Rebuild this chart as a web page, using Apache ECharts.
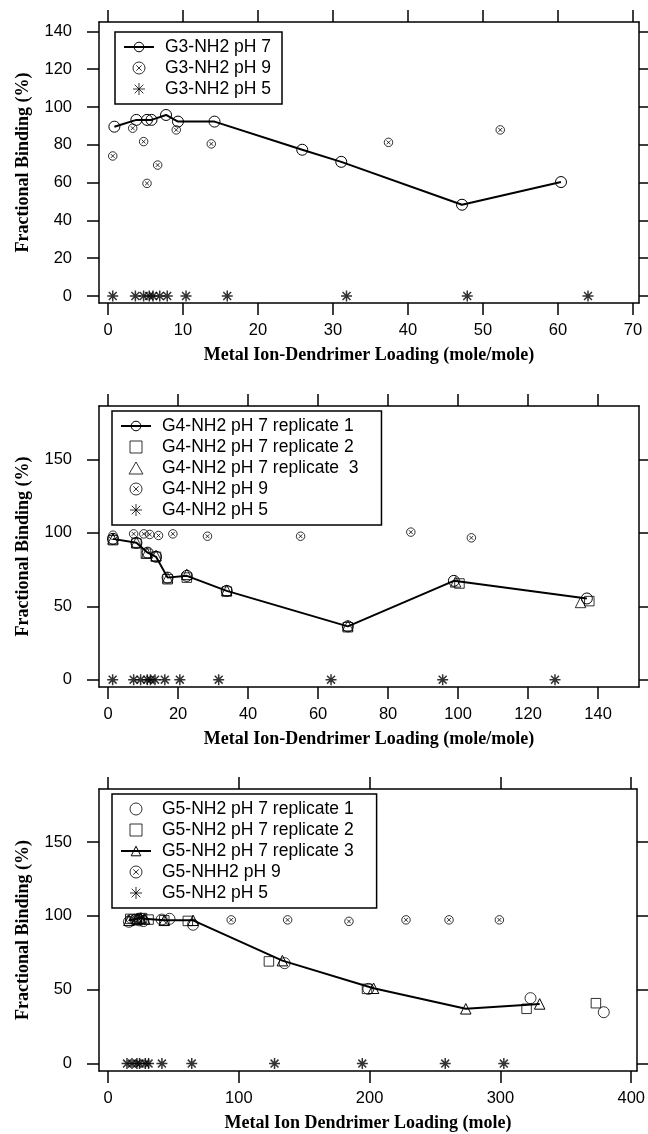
<!DOCTYPE html>
<html><head><meta charset="utf-8">
<script src="https://cdn.jsdelivr.net/npm/echarts@6/dist/echarts.min.js"></script>
<style>html,body{margin:0;padding:0;background:#fff}#c{width:648px;height:1134px}</style>
</head><body><div id="c"></div>
<script>
// ---------- DATA ----------
// Panel 1 (G3)
const g3_ph7_x = [0.85, 3.78, 5.2, 5.8, 7.74, 9.33, 14.2, 25.9, 31.1, 47.2, 60.4];
const g3_ph7_y = [89.6, 93.2, 93.2, 93.2, 95.8, 92.3, 92.3, 77.4, 71.0, 48.3, 60.3];
const g3_ph9_x = [0.63, 3.29, 4.75, 5.2, 6.62, 9.1, 13.77, 37.4, 52.3];
const g3_ph9_y = [74.1, 88.8, 81.7, 59.6, 69.3, 87.9, 80.5, 81.3, 87.9];
const g3_ph5_x = [0.63, 3.65, 4.75, 5.5, 6.0, 6.9, 7.9, 10.4, 15.9, 31.8, 47.9, 64.0];
const g3_ph5_y = [0, 0, 0, 0, 0, 0, 0, 0, 0, 0, 0, 0];
// Panel 2 (G4)
const g4_r1_x = [1.4, 8.1, 11.3, 13.7, 17.0, 22.5, 33.9, 68.5, 98.8, 136.8];
const g4_r1_y = [95.9, 93.2, 86.5, 83.7, 69.5, 70.7, 60.5, 36.3, 67.3, 55.3];
const g4_r2_x = [1.4, 8.1, 10.8, 13.7, 17.0, 22.5, 33.9, 68.5, 100.4, 137.5];
const g4_r2_y = [95.0, 92.8, 85.8, 83.7, 68.4, 69.5, 60.0, 35.7, 65.5, 53.5];
const g4_r3_x = [1.4, 8.1, 11.1, 13.7, 17.0, 22.5, 33.9, 68.5, 99.3, 135.0];
const g4_r3_y = [95.9, 93.7, 86.5, 84.6, 69.5, 71.8, 60.9, 36.8, 66.6, 52.6];
const g4_ph9_x = [1.4, 7.3, 10.2, 11.9, 14.4, 18.5, 28.4, 55.0, 86.5, 103.8];
const g4_ph9_y = [98.4, 99.3, 99.3, 98.9, 98.2, 99.3, 97.7, 97.7, 100.5, 96.6];
const g4_ph5_x = [1.3, 7.3, 9.3, 11.2, 12.1, 13.4, 16.2, 20.5, 31.6, 63.7, 95.6, 127.7];
const g4_ph5_y = [0, 0, 0, 0, 0, 0, 0, 0, 0, 0, 0, 0];
// Panel 3 (G5)
const g5_r1_x = [16, 21, 24, 27, 41, 47, 65, 135, 199, 323, 379];
const g5_r1_y = [96, 97.5, 97, 96.5, 97.5, 98, 94, 68, 50.6, 44.3, 34.8];
const g5_r2_x = [17, 22, 26, 31, 43, 61, 123, 198, 320, 373];
const g5_r2_y = [98, 97.5, 98.5, 97.5, 97, 96.6, 69.2, 50.6, 37.1, 40.9];
const g5_r3_x = [16, 22, 25, 28, 43, 65, 133.3, 203, 273.5, 330];
const g5_r3_y = [97, 98, 98.5, 98, 97, 97, 69.7, 51.0, 37.1, 40.4];
const g5_ph9_x = [17, 23, 25, 94.2, 137.3, 184.2, 227.8, 260.7, 299.2];
const g5_ph9_y = [98, 98.5, 99, 97.3, 97.3, 96.3, 97.3, 97.3, 97.3];
const g5_ph5_x = [14.5, 18.3, 22.1, 24.1, 28.5, 31.0, 41.2, 64.0, 127.3, 194.4, 257.8, 302.6];
const g5_ph5_y = [0, 0, 0, 0, 0, 0, 0, 0, 0, 0, 0, 0];
// Tick labels
const xticks1 = [0, 10, 20, 30, 40, 50, 60, 70];
const yticks1 = [0, 20, 40, 60, 80, 100, 120, 140];
const xticks2 = [0, 20, 40, 60, 80, 100, 120, 140];
const yticks2 = [0, 50, 100, 150];
const xticks3 = [0, 100, 200, 300, 400];
const yticks3 = [0, 50, 100, 150];
const xTitle12 = 'Metal Ion-Dendrimer Loading (mole/mole)';
const xTitle3 = 'Metal Ion Dendrimer Loading (mole)';
const yTitle = 'Fractional Binding (%)';

// ---------- CHART ----------
const zip = (xs, ys) => xs.map((x, i) => [x, ys[i]]);
const SYM_CIR = 'path://M10,0 A10,10 0 1,1 -10,0 A10,10 0 1,1 10,0 Z';
const SYM_CX = 'path://M10,0 A10,10 0 1,1 -10,0 A10,10 0 1,1 10,0 Z M-4.5,-4.5 L4.5,4.5 M4.5,-4.5 L-4.5,4.5';
const SYM_AST = 'path://M0,-10 L0,10 M-10,0 L10,0 M-7.2,-7.2 L7.2,7.2 M7.2,-7.2 L-7.2,7.2';
const SYM_SQ = 'path://M0,0 L10,0 L10,10 L0,10 Z';
const SYM_TRI = 'path://M5,0 L10,8.66 L0,8.66 Z';
const stroke = {color: 'transparent', borderColor: '#000', borderWidth: 1};

const grids = [
  {left: 99, top: 22, width: 540, height: 281},
  {left: 99, top: 406, width: 540, height: 281},
  {left: 99, top: 789, width: 540, height: 282}
];
const xr = [[-1.2, 70.8], [-2.6, 151.7], [-6.9, 404.3]];
const yr = [[-3.7, 145], [-5, 186.4], [-5, 185.9]];
const xt = [xticks1, xticks2, xticks3];
const yt = [yticks1, yticks2, yticks3];
const xn = [xTitle12, xTitle12, xTitle3];

const labelFont = {fontFamily: 'Liberation Sans', fontSize: 16.5, color: '#000'};
const titleFont = {fontFamily: 'Liberation Serif', fontWeight: 'bold', fontSize: 18, color: '#000'};
const axLine = {show: true, onZero: false, lineStyle: {color: '#000', width: 1.5}};

const xAxes = [], yAxes = [];
for (let g = 0; g < 3; g++) {
  xAxes.push({type: 'value', gridIndex: g, position: 'bottom', min: xr[g][0], max: xr[g][1],
    axisLine: axLine, splitLine: {show: false},
    axisTick: {show: true, length: 12, customValues: xt[g], lineStyle: {color: '#000', width: 1.5}},
    axisLabel: Object.assign({customValues: xt[g], margin: 19}, labelFont),
    name: xn[g], nameLocation: 'middle', nameGap: 43, nameTextStyle: titleFont});
  xAxes.push({type: 'value', gridIndex: g, position: 'top', min: xr[g][0], max: xr[g][1],
    axisLine: axLine, splitLine: {show: false},
    axisTick: {show: true, length: 12, customValues: xt[g], lineStyle: {color: '#000', width: 1.5}},
    axisLabel: {show: false}});
  yAxes.push({type: 'value', gridIndex: g, position: 'left', min: yr[g][0], max: yr[g][1],
    axisLine: axLine, splitLine: {show: false},
    axisTick: {show: true, length: 12, customValues: yt[g], lineStyle: {color: '#000', width: 1.5}},
    axisLabel: Object.assign({customValues: yt[g], margin: 27}, labelFont),
    name: yTitle, nameLocation: 'middle', nameGap: 67, nameRotate: 90, nameTextStyle: titleFont});
  yAxes.push({type: 'value', gridIndex: g, position: 'right', min: yr[g][0], max: yr[g][1],
    axisLine: axLine, splitLine: {show: false},
    axisTick: {show: true, length: 12, customValues: yt[g], lineStyle: {color: '#000', width: 1.5}},
    axisLabel: {show: false}});
}

function sc(name, g, data, symbol, size, bw) {
  return {name, type: 'scatter', xAxisIndex: 2 * g, yAxisIndex: 2 * g, data, symbol, symbolSize: size,
    itemStyle: Object.assign({}, stroke, {borderWidth: bw || 1}), emphasis: {disabled: true}, z: 3};
}
function ln(name, g, data, symbol, size) {
  return {name, type: 'line', xAxisIndex: 2 * g, yAxisIndex: 2 * g, data, symbol, symbolSize: size,
    showSymbol: true, itemStyle: stroke, lineStyle: {color: '#000', width: 2}, emphasis: {disabled: true}, z: 4};
}

const series = [
  ln('G3-NH2 pH 7', 0, zip(g3_ph7_x, g3_ph7_y), SYM_CIR, 11),
  sc('G3-NH2 pH 9', 0, zip(g3_ph9_x, g3_ph9_y), SYM_CX, 8.5),
  sc('G3-NH2 pH 5', 0, zip(g3_ph5_x, g3_ph5_y), SYM_AST, 11, 1.5),
  ln('G4-NH2 pH 7 replicate 1', 1, zip(g4_r1_x, g4_r1_y), SYM_CIR, 11),
  sc('G4-NH2 pH 7 replicate 2', 1, zip(g4_r2_x, g4_r2_y), SYM_SQ, 9.5),
  sc('G4-NH2 pH 7 replicate  3', 1, zip(g4_r3_x, g4_r3_y), SYM_TRI, 10.5),
  sc('G4-NH2 pH 9', 1, zip(g4_ph9_x, g4_ph9_y), SYM_CX, 8.5),
  sc('G4-NH2 pH 5', 1, zip(g4_ph5_x, g4_ph5_y), SYM_AST, 11, 1.5),
  sc('G5-NH2 pH 7 replicate 1', 2, zip(g5_r1_x, g5_r1_y), SYM_CIR, 11),
  sc('G5-NH2 pH 7 replicate 2', 2, zip(g5_r2_x, g5_r2_y), SYM_SQ, 9.5),
  ln('G5-NH2 pH 7 replicate 3', 2, zip(g5_r3_x, g5_r3_y), SYM_TRI, 10.5),
  sc('G5-NHH2 pH 9', 2, zip(g5_ph9_x, g5_ph9_y), SYM_CX, 8.5),
  sc('G5-NH2 pH 5', 2, zip(g5_ph5_x, g5_ph5_y), SYM_AST, 11, 1.5)
];

function leg(names, left, top, padRight) {
  return {data: names, orient: 'vertical', left, top, selectedMode: false,
    borderColor: '#000', borderWidth: 1.5, padding: [6, padRight, 6, 8], itemGap: 3,
    itemWidth: 30, itemHeight: 12, symbolKeepAspect: true,
    itemStyle: {color: 'transparent', borderColor: '#000', borderWidth: 1},
    textStyle: {fontFamily: 'Liberation Sans', fontSize: 17.5, color: '#000', lineHeight: 16, padding: [0, 0, 0, 6]}};
}

const option = {
  animation: false,
  backgroundColor: '#fff',
  grid: grids,
  xAxis: xAxes,
  yAxis: yAxes,
  legend: [
    leg(['G3-NH2 pH 7', 'G3-NH2 pH 9', 'G3-NH2 pH 5'], 115, 32, 11),
    leg(['G4-NH2 pH 7 replicate 1', 'G4-NH2 pH 7 replicate 2', 'G4-NH2 pH 7 replicate  3', 'G4-NH2 pH 9', 'G4-NH2 pH 5'], 112, 411, 23),
    leg(['G5-NH2 pH 7 replicate 1', 'G5-NH2 pH 7 replicate 2', 'G5-NH2 pH 7 replicate 3', 'G5-NHH2 pH 9', 'G5-NH2 pH 5'], 112, 794, 23)
  ],
  series
};
const chart = echarts.init(document.getElementById('c'), null, {renderer: 'canvas'});
chart.setOption(option);
</script>
</body></html>
